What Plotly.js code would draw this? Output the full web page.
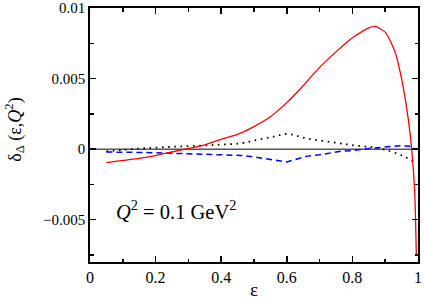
<!DOCTYPE html>
<html><head><meta charset="utf-8">
<script src="https://cdn.plot.ly/plotly-3.0.1.min.js"></script>
<style>body{margin:0;padding:0;background:#fff}#c{width:424px;height:300px}</style>
</head><body><div id="c"></div>
<script>
const redX = [0.05,0.1,0.15,0.2,0.25,0.3,0.35,0.4,0.45,0.5,0.55,0.6,0.65,0.7,0.75,0.8,0.85,0.87,0.9,0.93,0.95,0.97,0.98,0.99,0.995];
const redY = [-0.00095,-0.0008,-0.00065,-0.00045,-0.0002,0.00005,0.0003,0.0007,0.00105,0.0016,0.0023,0.0033,0.0045,0.0058,0.0069,0.0079,0.0086,0.0087,0.0083,0.0069,0.005,0.0022,0.0002,-0.003,-0.0075];
const dotX = [0.05,0.1,0.17,0.27,0.38,0.46,0.51,0.56,0.6,0.66,0.76,0.81,0.86,0.9,0.95,0.985];
const dotY = [-0.00016,-0.00005,0.00007,0.00019,0.0003,0.00042,0.00066,0.00089,0.00108,0.00077,0.00042,0.00026,0.00014,-0.00004,-0.00044,-0.00086];
const blueX = [0.05,0.1,0.2,0.3,0.4,0.46,0.5,0.55,0.6,0.66,0.7,0.76,0.8,0.86,0.9,0.945,0.975,0.99,0.995];
const blueY = [-0.0002,-0.0002,-0.00025,-0.00033,-0.0004,-0.00044,-0.00055,-0.0007,-0.0009,-0.00051,-0.0004,-0.00016,-0.0001,0.00007,0.00015,0.00024,0.0002,0.00003,0];
const zeroX = [0,1];
const zeroY = [0,0];
const yTickVals = [-0.005,0,0.005,0.01];
const yTickText = ['\u22120.005','0','0.005','0.01'];
const xTickVals = [0,0.2,0.4,0.6,0.8,1];
const xTickText = ['0','0.2','0.4','0.6','0.8','1'];
const yTitle = '\u03b4<sub>\u0394</sub> (\u03b5,<i>Q</i><sup>2</sup>)';
const xTitle = '\u03b5';
const label = '<i>Q</i><sup>2</sup> = 0.1 GeV<sup>2</sup>';

const fam = '"Liberation Serif", "Times New Roman", serif';
function F(size){ return {family:fam,size:size,color:'#000'}; }
const data = [
  {x:zeroX,y:zeroY,mode:'lines',line:{color:'#000',width:1},hoverinfo:'skip'},
  {x:dotX,y:dotY,mode:'lines',line:{color:'#000',width:1.8,dash:'1.6px,4.6px',shape:'spline'}},
  {x:blueX,y:blueY,mode:'lines',line:{color:'#0000ff',width:1.5,dash:'6px,4px'}},
  {x:redX,y:redY,mode:'lines',line:{color:'#ff0000',width:1.3,shape:'spline',smoothing:0.6}}
];
const axBase = {showgrid:false,zeroline:false,showline:true,linecolor:'#000',linewidth:1.8,mirror:'ticks',ticks:'inside',ticklen:6,tickwidth:1.5,tickcolor:'#000',ticklabeloverflow:'allow'};
const layout = {
  width:424,height:300,margin:{l:90,r:6,t:8,b:38},
  paper_bgcolor:'#fff',plot_bgcolor:'#fff',showlegend:false,
  font:F(15),
  xaxis:Object.assign({},axBase,{range:[0,1.0001],tickmode:'array',tickvals:xTickVals,ticktext:xTickText,tickfont:F(16),
    minor:{dtick:0.1,ticks:'inside',ticklen:3.5,tickwidth:1.5,tickcolor:'#000'},
    title:{text:xTitle,font:F(19),standoff:1}}),
  yaxis:Object.assign({},axBase,{range:[-0.008,0.01001],tickmode:'array',tickvals:yTickVals,ticktext:yTickText,tickfont:F(15),
    minor:{dtick:0.0025,ticks:'inside',ticklen:3.5,tickwidth:1.5,tickcolor:'#000'}}),
  annotations:[
    {xref:'paper',yref:'paper',x:0.074,y:0.205,xanchor:'left',yanchor:'middle',showarrow:false,text:label,font:F(20.5)},
    {xref:'paper',yref:'paper',x:-0.229,y:0.52,xanchor:'center',yanchor:'middle',textangle:-90,showarrow:false,text:yTitle,font:F(18)}
  ]
};
Plotly.newPlot('c',data,layout,{staticPlot:true});
</script></body></html>
